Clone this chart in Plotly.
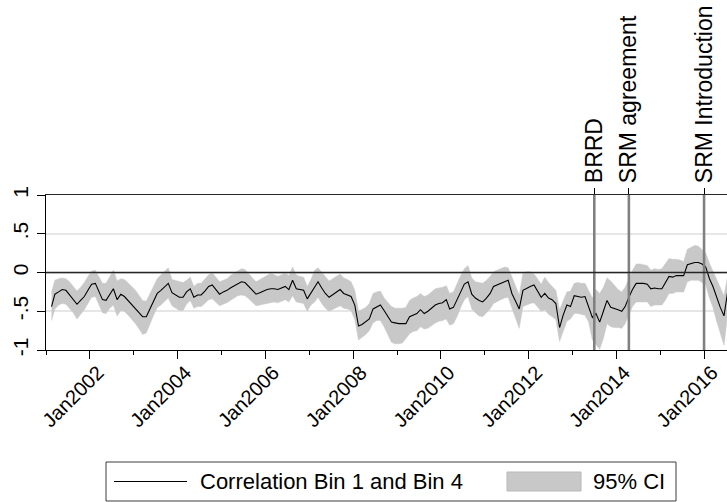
import pandas as pd
import plotly.graph_objects as go

# Monthly correlation between bin 1 and bin 4 (Feb 2001 - Jul 2016) with 95% CI
corr = [
    -0.44, -0.28, -0.25, -0.22, -0.23, -0.29, -0.35, -0.41, -0.36, -0.31,
    -0.23, -0.15, -0.14, -0.25, -0.35, -0.36, -0.28, -0.21, -0.35, -0.28,
    -0.31, -0.36, -0.41, -0.46, -0.52, -0.57, -0.57, -0.47, -0.37, -0.27,
    -0.23, -0.18, -0.14, -0.26, -0.29, -0.32, -0.32, -0.25, -0.21, -0.32,
    -0.29, -0.29, -0.24, -0.18, -0.16, -0.22, -0.28, -0.25, -0.23, -0.20,
    -0.17, -0.14, -0.12, -0.13, -0.18, -0.23, -0.28, -0.26, -0.24, -0.22,
    -0.21, -0.21, -0.22, -0.20, -0.18, -0.22, -0.10, -0.21, -0.22, -0.23,
    -0.34, -0.26, -0.18, -0.12, -0.20, -0.27, -0.32, -0.29, -0.26, -0.22,
    -0.27, -0.29, -0.31, -0.42, -0.69, -0.67, -0.63, -0.60, -0.47, -0.44,
    -0.42, -0.49, -0.57, -0.64, -0.65, -0.66, -0.66, -0.66, -0.57, -0.55,
    -0.53, -0.48, -0.53, -0.50, -0.46, -0.42, -0.40, -0.39, -0.35, -0.47,
    -0.45, -0.36, -0.25, -0.15, -0.12, -0.28, -0.33, -0.36, -0.38, -0.33,
    -0.27, -0.18, -0.16, -0.15, -0.12, -0.10, -0.27, -0.37, -0.47, -0.23,
    -0.20, -0.18, -0.16, -0.24, -0.32, -0.27, -0.33, -0.35, -0.40, -0.71,
    -0.55, -0.42, -0.44, -0.30, -0.31, -0.32, -0.31, -0.43, -0.58, -0.53,
    -0.64, -0.50, -0.36, -0.45, -0.46, -0.48, -0.50, -0.44, -0.32, -0.22,
    -0.14, -0.14, -0.14, -0.15, -0.21, -0.20, -0.21, -0.21, -0.13, -0.05,
    -0.06, -0.04, -0.04, -0.04, 0.10, 0.12, 0.13, 0.13, 0.11, 0.07,
    -0.08, -0.18, -0.32, -0.45, -0.56, -0.25,
]

ci_upper = [
    -0.25, -0.10, -0.08, -0.07, -0.08, -0.12, -0.18, -0.24, -0.19, -0.13,
    -0.05, 0.02, 0.03, -0.06, -0.14, -0.14, -0.05, 0.03, -0.11, -0.08,
    -0.09, -0.13, -0.18, -0.23, -0.30, -0.36, -0.37, -0.27, -0.17, -0.08,
    -0.03, 0.02, 0.06, -0.09, -0.10, -0.12, -0.13, -0.10, -0.06, -0.18,
    -0.14, -0.14, -0.09, -0.03, 0.00, -0.06, -0.12, -0.10, -0.08, -0.04,
    -0.01, 0.03, 0.05, 0.04, -0.02, -0.07, -0.12, -0.09, -0.06, -0.03,
    -0.01, -0.03, -0.05, -0.03, -0.01, -0.04, 0.07, -0.03, -0.05, -0.06,
    -0.18, -0.09, 0.03, 0.06, 0.00, -0.06, -0.11, -0.08, -0.05, -0.02,
    -0.07, -0.09, -0.12, -0.23, -0.50, -0.48, -0.45, -0.40, -0.27, -0.25,
    -0.24, -0.33, -0.39, -0.44, -0.46, -0.46, -0.46, -0.45, -0.36, -0.33,
    -0.31, -0.27, -0.31, -0.29, -0.25, -0.21, -0.20, -0.19, -0.17, -0.27,
    -0.25, -0.14, -0.04, 0.05, 0.09, -0.07, -0.12, -0.13, -0.14, -0.10,
    -0.05, 0.01, 0.03, 0.05, 0.07, 0.06, -0.06, -0.17, -0.29, -0.01,
    0.01, 0.01, -0.02, -0.08, -0.15, -0.06, -0.13, -0.18, -0.23, -0.48,
    -0.37, -0.25, -0.24, -0.14, -0.13, -0.14, -0.14, -0.24, -0.33, -0.22,
    -0.27, -0.19, -0.07, -0.11, -0.17, -0.22, -0.25, -0.19, -0.08, 0.03,
    0.11, 0.11, 0.10, 0.09, 0.03, 0.05, 0.04, 0.05, 0.12, 0.18,
    0.17, 0.17, 0.16, 0.14, 0.30, 0.33, 0.35, 0.34, 0.30, 0.25,
    0.12, 0.02, -0.10, -0.20, -0.30, -0.05,
]

ci_lower = [
    -0.62, -0.47, -0.42, -0.40, -0.41, -0.46, -0.52, -0.60, -0.54, -0.48,
    -0.40, -0.32, -0.31, -0.42, -0.52, -0.53, -0.46, -0.42, -0.56, -0.49,
    -0.50, -0.55, -0.60, -0.66, -0.73, -0.80, -0.78, -0.66, -0.55, -0.45,
    -0.42, -0.37, -0.33, -0.43, -0.46, -0.49, -0.49, -0.41, -0.36, -0.46,
    -0.44, -0.44, -0.40, -0.35, -0.34, -0.38, -0.43, -0.41, -0.39, -0.36,
    -0.33, -0.30, -0.29, -0.30, -0.34, -0.39, -0.43, -0.42, -0.41, -0.40,
    -0.38, -0.38, -0.39, -0.37, -0.35, -0.38, -0.30, -0.38, -0.39, -0.40,
    -0.50, -0.42, -0.38, -0.32, -0.40, -0.46, -0.50, -0.48, -0.46, -0.43,
    -0.46, -0.47, -0.49, -0.61, -0.87, -0.84, -0.80, -0.75, -0.65, -0.62,
    -0.62, -0.70, -0.80, -0.90, -0.92, -0.92, -0.91, -0.86, -0.79, -0.76,
    -0.75, -0.70, -0.73, -0.72, -0.68, -0.65, -0.63, -0.62, -0.60, -0.68,
    -0.66, -0.57, -0.45, -0.35, -0.31, -0.47, -0.52, -0.56, -0.57, -0.52,
    -0.47, -0.40, -0.37, -0.35, -0.33, -0.32, -0.46, -0.58, -0.72, -0.44,
    -0.42, -0.40, -0.39, -0.45, -0.50, -0.48, -0.54, -0.57, -0.61, -0.89,
    -0.75, -0.63, -0.60, -0.53, -0.53, -0.54, -0.55, -0.64, -0.87, -0.93,
    -0.99, -0.85, -0.66, -0.70, -0.71, -0.71, -0.72, -0.66, -0.55, -0.44,
    -0.38, -0.38, -0.38, -0.38, -0.44, -0.42, -0.42, -0.42, -0.35, -0.27,
    -0.27, -0.25, -0.25, -0.25, -0.12, -0.10, -0.10, -0.10, -0.13, -0.16,
    -0.33, -0.45, -0.63, -0.80, -0.94, -0.55,
]

# Mid-month observation dates
dates = pd.date_range("2001-02-01", periods=len(corr), freq="MS") + pd.Timedelta(days=14)

# Regulatory events
event_dates = ["2013-07-01", "2014-04-15", "2016-01-01"]
event_labels = ["BRRD", "SRM agreement", "SRM Introduction"]

# Axis labelling
x_tick_dates = ["2002-01-01", "2004-01-01", "2006-01-01", "2008-01-01",
                "2010-01-01", "2012-01-01", "2014-01-01", "2016-01-01"]
x_tick_text = ["Jan2002", "Jan2004", "Jan2006", "Jan2008",
               "Jan2010", "Jan2012", "Jan2014", "Jan2016"]
x_minor_dates = ["2001-01-01", "2003-01-01", "2005-01-01", "2007-01-01", "2009-01-01",
                 "2011-01-01", "2013-01-01", "2015-01-01"]
y_tick_vals = [-1, -0.5, 0, 0.5, 1]
y_tick_text = ["-1", "-.5", "0", ".5", "1"]

line_label = "Correlation Bin 1 and Bin 4"
band_label = "95% CI"

FONT = "Liberation Sans, Arial, Helvetica, sans-serif"
W, H = 727, 502
ML, MR, MT, MB = 46, 0, 195, 152
PW, PH = W - ML - MR, H - MT - MB
x_range = ["2000-12-31", "2016-07-10"]
BAND = "#c8c8c8"


def px_x(px):
    return (px - ML) / PW


def px_y(py):
    return (H - MB - py) / PH


fig = go.Figure()

fig.add_trace(go.Scatter(
    x=dates, y=ci_lower, mode="lines",
    line=dict(color=BAND, width=0.5),
    showlegend=False, hoverinfo="skip",
))
fig.add_trace(go.Scatter(
    x=dates, y=ci_upper, mode="lines", fill="tonexty", fillcolor=BAND,
    line=dict(color=BAND, width=0.5),
    name=band_label, showlegend=False,
))
fig.add_trace(go.Scatter(
    x=dates, y=corr, mode="lines",
    line=dict(color="black", width=1.1),
    name=line_label, showlegend=False,
))

# Vertical event markers drawn on the top axis
ev_x, ev_y = [], []
for d in event_dates:
    ev_x += [d, d, None]
    ev_y += [-1, 1, None]
fig.add_trace(go.Scatter(
    x=ev_x, y=ev_y, mode="lines", xaxis="x2",
    line=dict(color="#808080", width=2.6),
    showlegend=False, hoverinfo="skip",
))

# Horizontal reference line at zero
fig.add_shape(type="line", xref="paper", yref="y", x0=0, x1=1, y0=0, y1=0,
              line=dict(color="#262626", width=1.4), layer="above")

# Legend box drawn by hand so the keys match the wide Stata-style samples
leg_top, leg_bot = 462, 501
fig.add_shape(type="rect", xref="paper", yref="paper",
              x0=px_x(106), x1=px_x(676), y0=px_y(leg_bot), y1=px_y(leg_top),
              line=dict(color="#3c3c3c", width=1), fillcolor="white")
fig.add_shape(type="line", xref="paper", yref="paper",
              x0=px_x(114), x1=px_x(187), y0=px_y(481.5), y1=px_y(481.5),
              line=dict(color="black", width=1.1))
fig.add_shape(type="rect", xref="paper", yref="paper",
              x0=px_x(507), x1=px_x(581), y0=px_y(491), y1=px_y(472),
              line=dict(color="#b8b8b8", width=1), fillcolor=BAND)
fig.add_annotation(text=line_label, xref="paper", yref="paper",
                   x=px_x(198), y=px_y(481.5), xanchor="left", yanchor="middle",
                   showarrow=False, font=dict(family=FONT, size=22, color="black"))
fig.add_annotation(text=band_label, xref="paper", yref="paper",
                   x=px_x(591), y=px_y(481.5), xanchor="left", yanchor="middle",
                   showarrow=False, font=dict(family=FONT, size=22, color="black"))

fig.update_layout(
    width=W, height=H,
    margin=dict(l=ML, r=MR, t=MT, b=MB, pad=0),
    paper_bgcolor="white", plot_bgcolor="white",
    font=dict(family=FONT, color="black"),
    showlegend=False,
    xaxis=dict(
        type="date", range=x_range,
        tickvals=x_tick_dates, ticktext=x_tick_text, tickangle=-45,
        tickfont=dict(size=20, family=FONT, color="black"),
        ticks="outside", ticklen=8, tickwidth=1.3, tickcolor="black",
        ticklabelshift=8, ticklabelstandoff=-6,
        minor=dict(tickvals=x_minor_dates, ticks="outside", ticklen=4,
                   tickwidth=1.2, tickcolor="black", showgrid=False),
        showline=True, linecolor="black", linewidth=1.3,
        showgrid=False, zeroline=False, fixedrange=True,
    ),
    xaxis2=dict(
        type="date", range=x_range, overlaying="x", side="top", anchor="y",
        tickvals=event_dates, ticktext=event_labels, tickangle=-90,
        tickfont=dict(size=23, family=FONT, color="black"),
        ticks="outside", ticklen=6, tickwidth=1.2, tickcolor="black",
        showline=True, linecolor="#262626", linewidth=1.4,
        showgrid=False, zeroline=False, fixedrange=True,
    ),
    yaxis=dict(
        range=[-1, 1], tickvals=y_tick_vals, ticktext=y_tick_text, tickangle=-90,
        tickfont=dict(size=21, family=FONT, color="black"),
        ticks="outside", ticklen=8, tickwidth=1.3, tickcolor="black",
        showline=True, linecolor="black", linewidth=1.3,
        showgrid=True, gridcolor="#e6e6e6", gridwidth=1.5,
        zeroline=False, fixedrange=True,
    ),
)

fig.write_html("out.html")
